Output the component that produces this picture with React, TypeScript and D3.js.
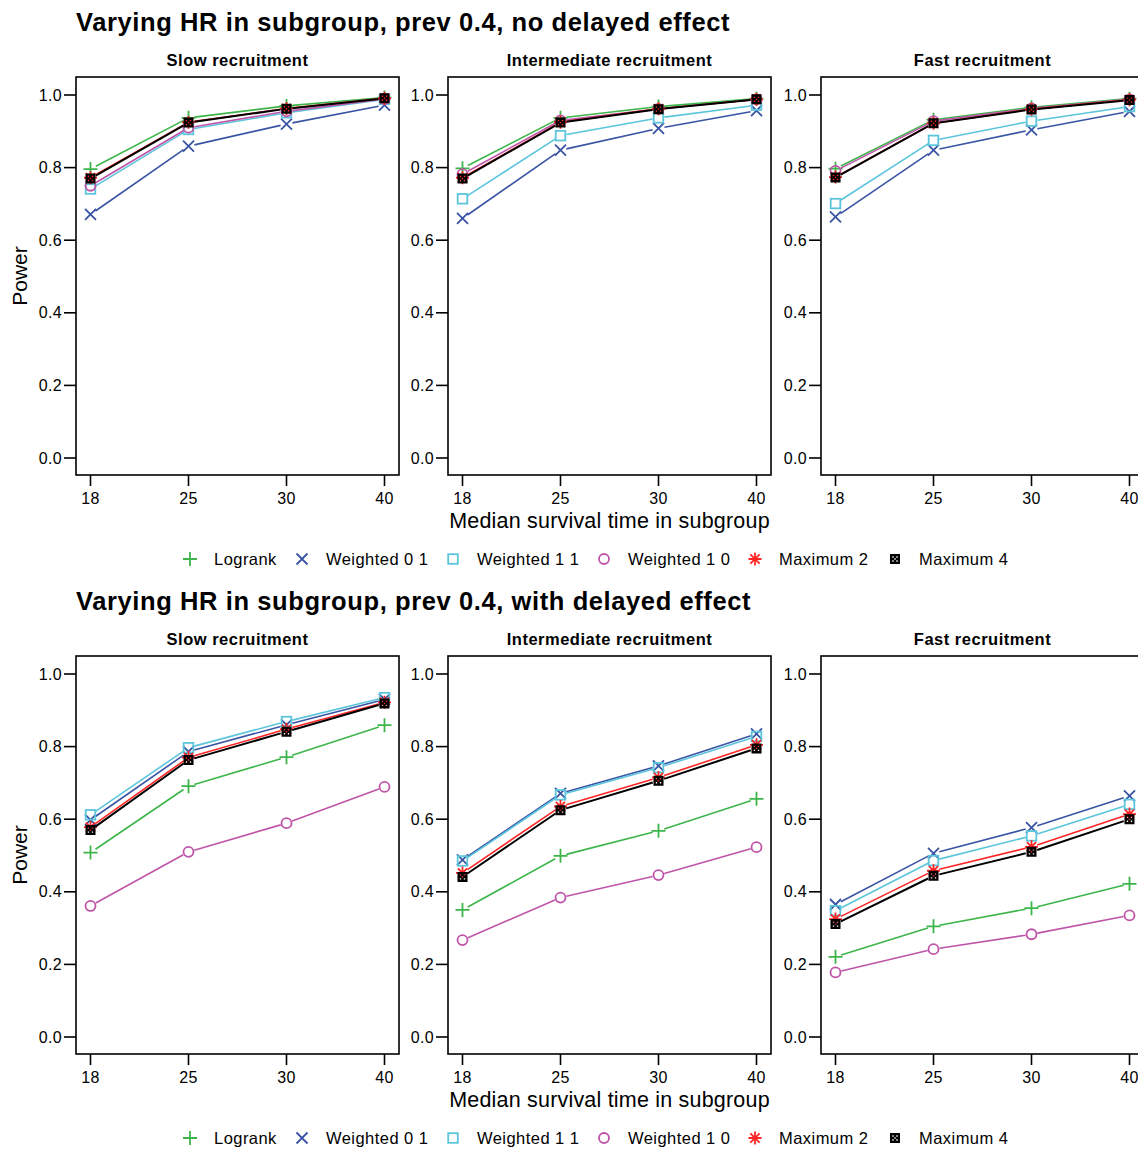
import React from "react";
import * as d3 from "d3";

const xCats = ["18", "25", "30", "40"];
const panelTitles = ["Slow recruitment", "Intermediate recruitment", "Fast recruitment"];
const rowTitles = [
  "Varying HR in subgroup, prev 0.4, no delayed effect",
  "Varying HR in subgroup, prev 0.4, with delayed effect",
];
const methods = ["Logrank", "Weighted 0 1", "Weighted 1 1", "Weighted 1 0", "Maximum 2", "Maximum 4"];
const methodColors = ["#3db54a", "#3a54a4", "#5bc5db", "#bf55a8", "#ff2424", "#000000"];
const methodShapes = ["plus", "cross", "square", "circle", "asterisk", "box"];
const yTicks = [0, 0.2, 0.4, 0.6, 0.8, 1.0];

// rows: Logrank, W01, W11, W10, Max2, Max4 ; columns: 18, 25, 30, 40
const noDelaySlow = [
  [0.796, 0.937, 0.970, 0.993],
  [0.671, 0.859, 0.920, 0.972],
  [0.741, 0.905, 0.951, 0.988],
  [0.750, 0.910, 0.955, 0.989],
  [0.772, 0.925, 0.963, 0.991],
  [0.770, 0.924, 0.962, 0.991],
];
const noDelayIntermediate = [
  [0.798, 0.937, 0.968, 0.990],
  [0.660, 0.848, 0.908, 0.957],
  [0.714, 0.888, 0.937, 0.972],
  [0.782, 0.930, 0.962, 0.988],
  [0.772, 0.925, 0.962, 0.988],
  [0.770, 0.924, 0.961, 0.988],
];
const noDelayFast = [
  [0.797, 0.932, 0.966, 0.990],
  [0.664, 0.848, 0.904, 0.955],
  [0.701, 0.875, 0.928, 0.968],
  [0.791, 0.928, 0.963, 0.988],
  [0.774, 0.922, 0.961, 0.987],
  [0.773, 0.922, 0.960, 0.986],
];
const delaySlow = [
  [0.508, 0.691, 0.771, 0.859],
  [0.598, 0.786, 0.860, 0.930],
  [0.612, 0.797, 0.869, 0.935],
  [0.361, 0.510, 0.589, 0.689],
  [0.578, 0.770, 0.848, 0.922],
  [0.570, 0.763, 0.841, 0.919],
];
const delayIntermediate = [
  [0.350, 0.499, 0.568, 0.656],
  [0.488, 0.671, 0.747, 0.835],
  [0.485, 0.667, 0.742, 0.828],
  [0.267, 0.384, 0.446, 0.523],
  [0.452, 0.635, 0.715, 0.805],
  [0.441, 0.625, 0.706, 0.795],
];
const delayFast = [
  [0.221, 0.305, 0.355, 0.422],
  [0.365, 0.506, 0.577, 0.664],
  [0.348, 0.486, 0.554, 0.641],
  [0.178, 0.242, 0.283, 0.335],
  [0.325, 0.458, 0.524, 0.614],
  [0.311, 0.444, 0.510, 0.600],
];
const rowsData = [
  [noDelaySlow, noDelayIntermediate, noDelayFast],
  [delaySlow, delayIntermediate, delayFast],
];

// layout
const W = 1138;
const H = 1149;
const FONT = "'Liberation Sans', Arial, Helvetica, sans-serif";
const panelLefts = [76, 448, 821];
const panelW = 323;
const rowOffset = 579;
const boxTop = 77;
const boxBottom = 475;
const legendSymX = [190, 302, 453, 604, 755, 895];

function Marker({ shape, color, x, y }: { shape: string; color: string; x: number; y: number }) {
  const sw = 1.8;
  if (shape === "plus") {
    const r = 7;
    return <path d={`M${x - r},${y}H${x + r}M${x},${y - r}V${y + r}`} stroke={color} strokeWidth={sw} fill="none" />;
  }
  if (shape === "cross") {
    const r = 5.5;
    return <path d={`M${x - r},${y - r}L${x + r},${y + r}M${x - r},${y + r}L${x + r},${y - r}`} stroke={color} strokeWidth={sw} fill="none" />;
  }
  if (shape === "square") {
    const r = 4.8;
    return <rect x={x - r} y={y - r} width={2 * r} height={2 * r} stroke={color} strokeWidth={sw} fill="none" />;
  }
  if (shape === "circle") {
    return <circle cx={x} cy={y} r={5} stroke={color} strokeWidth={sw} fill="none" />;
  }
  if (shape === "asterisk") {
    const r = 6.5;
    const d = 4.6;
    return (
      <path
        d={`M${x - r},${y}H${x + r}M${x},${y - r}V${y + r}M${x - d},${y - d}L${x + d},${y + d}M${x - d},${y + d}L${x + d},${y - d}`}
        stroke={color}
        strokeWidth={sw}
        fill="none"
      />
    );
  }
  // box: filled square with small holes
  const r = 5;
  const h = 0.7;
  let d = `M${x - r},${y - r}h${2 * r}v${2 * r}h${-2 * r}Z`;
  for (const [dx, dy] of [[-2, -2], [2, -2], [-2, 2], [2, 2], [0, 0]]) {
    d += `M${x + dx - h},${y + dy - h}h${2 * h}v${2 * h}h${-2 * h}Z`;
  }
  return <path d={d} fill={color} fillRule="evenodd" />;
}

function Panel({ data, left, top, title, showY, showXLabel }: any) {
  const x = d3.scalePoint<string>().domain(xCats).range([left + 14.5, left + panelW - 14.5]);
  const y = d3.scaleLinear().domain([0, 1]).range([458 + top, 95 + top]);
  const gap = 6;
  return (
    <g>
      <text x={left + panelW / 2} y={66 + top} textAnchor="middle" fontFamily={FONT} fontWeight="bold" fontSize={16.5} letterSpacing={0.5}>
        {title}
      </text>
      {data.map((vals: number[], si: number) => {
        const pts = vals.map((v, i) => [x(xCats[i]) as number, y(v)]);
        const segs: string[] = [];
        for (let i = 0; i < pts.length - 1; i++) {
          const [x0, y0] = pts[i];
          const [x1, y1] = pts[i + 1];
          const len = Math.hypot(x1 - x0, y1 - y0);
          if (len <= 2 * gap) continue;
          const ux = (x1 - x0) / len;
          const uy = (y1 - y0) / len;
          segs.push(
            d3.line()([
              [x0 + ux * gap, y0 + uy * gap],
              [x1 - ux * gap, y1 - uy * gap],
            ]) as string
          );
        }
        return (
          <g key={si}>
            <path d={segs.join("")} stroke={methodColors[si]} strokeWidth={si === 5 ? 2 : 1.6} fill="none" />
            {pts.map((p, i) => (
              <Marker key={i} shape={methodShapes[si]} color={methodColors[si]} x={p[0]} y={p[1]} />
            ))}
          </g>
        );
      })}
      <rect x={left} y={boxTop + top} width={panelW} height={boxBottom - boxTop} fill="none" stroke="#000" strokeWidth={1.6} />
      {yTicks.map((t) => (
        <g key={t}>
          <line x1={left - 12} x2={left} y1={y(t)} y2={y(t)} stroke="#000" strokeWidth={1.6} />
          <text x={left - 14} y={y(t) + 5.5} textAnchor="end" fontFamily={FONT} fontSize={16} letterSpacing={0.3}>
            {d3.format(".1f")(t)}
          </text>
        </g>
      ))}
      {xCats.map((c) => (
        <g key={c}>
          <line x1={x(c)} x2={x(c)} y1={boxBottom + top} y2={boxBottom + top + 11} stroke="#000" strokeWidth={1.6} />
          <text x={x(c)} y={boxBottom + top + 29} textAnchor="middle" fontFamily={FONT} fontSize={16} letterSpacing={0.3}>
            {c}
          </text>
        </g>
      ))}
      {showY && (
        <text
          transform={`translate(27,${(boxTop + boxBottom) / 2 + top}) rotate(-90)`}
          textAnchor="middle"
          fontFamily={FONT}
          fontSize={21}
        >
          Power
        </text>
      )}
      {showXLabel && (
        <text x={left + panelW / 2} y={528 + top} textAnchor="middle" fontFamily={FONT} fontSize={21.5} letterSpacing={0.2}>
          Median survival time in subgroup
        </text>
      )}
    </g>
  );
}

function Legend({ top }: { top: number }) {
  return (
    <g>
      {methods.map((m, i) => (
        <g key={m}>
          <Marker shape={methodShapes[i]} color={methodColors[i]} x={legendSymX[i]} y={559 + top} />
          <text x={legendSymX[i] + 24} y={565 + top} fontFamily={FONT} fontSize={16.5} letterSpacing={0.45}>
            {m}
          </text>
        </g>
      ))}
    </g>
  );
}

export default function App() {
  return (
    <div style={{ position: "absolute", left: 0, top: 0 }}>
      <svg width={W} height={H} style={{ display: "block", background: "#fff" }}>
        {rowsData.map((row, ri) => {
          const top = ri * rowOffset;
          return (
            <g key={ri}>
              <text x={76} y={31 + top} fontFamily={FONT} fontWeight="bold" fontSize={25.5} letterSpacing={0.6}>
                {rowTitles[ri]}
              </text>
              {row.map((data, pi) => (
                <Panel
                  key={pi}
                  data={data}
                  left={panelLefts[pi]}
                  top={top}
                  title={panelTitles[pi]}
                  showY={pi === 0}
                  showXLabel={pi === 1}
                />
              ))}
              <Legend top={top} />
            </g>
          );
        })}
      </svg>
    </div>
  );
}
